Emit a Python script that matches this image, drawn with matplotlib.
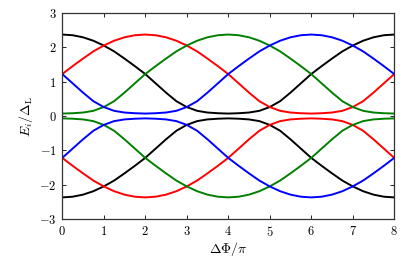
import matplotlib
matplotlib.use("Agg")
import matplotlib.pyplot as plt

plt.rcParams['font.family'] = 'serif'
plt.rcParams['font.serif'] = ['cmr10']
plt.rcParams['mathtext.fontset'] = 'cm'
plt.rcParams['axes.formatter.use_mathtext'] = True
plt.rcParams['font.size'] = 9

# phase difference in units of pi
dphi = [i * 0.25 for i in range(33)]

# upper bands
black_up = [2.37, 2.35, 2.29, 2.19, 2.05, 1.88, 1.67, 1.45, 1.22, 0.95, 0.68, 0.43, 0.26, 0.15, 0.10, 0.08, 0.07,
            0.08, 0.10, 0.15, 0.26, 0.43, 0.68, 0.95, 1.22, 1.45, 1.67, 1.88, 2.05, 2.19, 2.29, 2.35, 2.37]
red_up = [1.22, 1.45, 1.67, 1.88, 2.05, 2.19, 2.29, 2.35, 2.37, 2.35, 2.29, 2.19, 2.05, 1.88, 1.67, 1.45, 1.22,
          0.95, 0.68, 0.43, 0.26, 0.15, 0.10, 0.08, 0.07, 0.08, 0.10, 0.15, 0.26, 0.43, 0.68, 0.95, 1.22]
green_up = [0.07, 0.08, 0.10, 0.15, 0.26, 0.43, 0.68, 0.95, 1.22, 1.45, 1.67, 1.88, 2.05, 2.19, 2.29, 2.35, 2.37,
            2.35, 2.29, 2.19, 2.05, 1.88, 1.67, 1.45, 1.22, 0.95, 0.68, 0.43, 0.26, 0.15, 0.10, 0.08, 0.07]
blue_up = [1.22, 0.95, 0.68, 0.43, 0.26, 0.15, 0.10, 0.08, 0.07, 0.08, 0.10, 0.15, 0.26, 0.43, 0.68, 0.95, 1.22,
           1.45, 1.67, 1.88, 2.05, 2.19, 2.29, 2.35, 2.37, 2.35, 2.29, 2.19, 2.05, 1.88, 1.67, 1.45, 1.22]

# lower bands
black_lo = [-2.37, -2.35, -2.29, -2.19, -2.05, -1.88, -1.67, -1.45, -1.22, -0.95, -0.68, -0.43, -0.26, -0.15, -0.10, -0.08, -0.07,
            -0.08, -0.10, -0.15, -0.26, -0.43, -0.68, -0.95, -1.22, -1.45, -1.67, -1.88, -2.05, -2.19, -2.29, -2.35, -2.37]
red_lo = [-1.22, -1.45, -1.67, -1.88, -2.05, -2.19, -2.29, -2.35, -2.37, -2.35, -2.29, -2.19, -2.05, -1.88, -1.67, -1.45, -1.22,
          -0.95, -0.68, -0.43, -0.26, -0.15, -0.10, -0.08, -0.07, -0.08, -0.10, -0.15, -0.26, -0.43, -0.68, -0.95, -1.22]
green_lo = [-0.07, -0.08, -0.10, -0.15, -0.26, -0.43, -0.68, -0.95, -1.22, -1.45, -1.67, -1.88, -2.05, -2.19, -2.29, -2.35, -2.37,
            -2.35, -2.29, -2.19, -2.05, -1.88, -1.67, -1.45, -1.22, -0.95, -0.68, -0.43, -0.26, -0.15, -0.10, -0.08, -0.07]
blue_lo = [-1.22, -0.95, -0.68, -0.43, -0.26, -0.15, -0.10, -0.08, -0.07, -0.08, -0.10, -0.15, -0.26, -0.43, -0.68, -0.95, -1.22,
           -1.45, -1.67, -1.88, -2.05, -2.19, -2.29, -2.35, -2.37, -2.35, -2.29, -2.19, -2.05, -1.88, -1.67, -1.45, -1.22]

fig = plt.figure(figsize=(4.15, 2.58), dpi=100)
ax = fig.add_axes([0.150, 0.151, 0.800, 0.799])

for up, lo, c in [(black_up, black_lo, 'black'), (red_up, red_lo, 'red'),
                  (green_up, green_lo, 'green'), (blue_up, blue_lo, 'blue')]:
    ax.plot(dphi, up, color=c, lw=1.4)
    ax.plot(dphi, lo, color=c, lw=1.4)

ax.set_xlim(0, 8)
ax.set_ylim(-3, 3)
ax.set_xticks(range(0, 9))
ax.set_yticks(range(-3, 4))
ax.tick_params(direction='in', top=True, right=True, length=3, width=0.6, pad=4)
for s in ax.spines.values():
    s.set_linewidth(0.9)
    s.set_color('#333333')

ax.set_xlabel(r'$\Delta\Phi/\pi$', fontsize=10, labelpad=1)
ax.set_ylabel(r'$E_i/\Delta_\mathrm{L}$', fontsize=10, labelpad=3)

fig.savefig('out.png', dpi=100)
